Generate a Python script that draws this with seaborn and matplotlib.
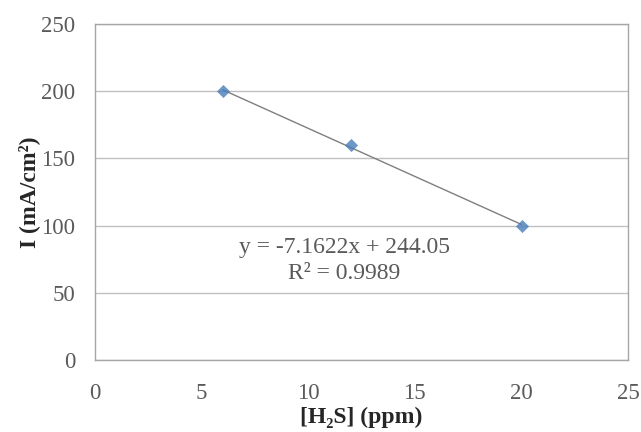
import numpy as np
import pandas as pd
import seaborn as sns
import matplotlib.pyplot as plt

# data
h2s_ppm = [6, 12, 20]
current = [200, 160, 100]
eq_text = "y = -7.1622x + 244.05"
r2_text = "R² = 0.9989"

sns.set_style("white")
plt.rcParams['font.family'] = ['Liberation Serif', 'DejaVu Serif']

df = pd.DataFrame({"h2s": h2s_ppm, "I": current})

fig = plt.figure(figsize=(6.41, 4.32), dpi=100)
ax = fig.add_axes([0.148, 0.167, 0.832, 0.777])

sns.regplot(data=df, x="h2s", y="I", ax=ax, ci=None, truncate=True,
            marker="D",
            scatter_kws={"color": "#4a7ebb", "s": 45, "zorder": 3, "linewidths": 0},
            line_kws={"color": "#7f7f7f", "lw": 1.0, "zorder": 2})

ax.set_xlim(0, 25)
ax.set_ylim(0, 250)
ax.set_xticks([0, 5, 10, 15, 20, 25])
ax.set_yticks([0, 50, 100, 150, 200, 250])
ax.yaxis.grid(True, color="#c0c0c0", lw=1)
ax.set_axisbelow(True)
for s in ax.spines.values():
    s.set_color("#a6a6a6")
    s.set_linewidth(1.0)
ax.tick_params(axis="both", length=0, labelsize=16.5, labelcolor="#5a5a5a")
ax.tick_params(axis="x", pad=17)
ax.tick_params(axis="y", pad=14)

ax.set_xlabel("[H₂S] (ppm)", fontsize=17, fontweight="bold", labelpad=2)
ax.set_ylabel("I (mA/cm²)", fontsize=17, fontweight="bold", labelpad=1)

ax.text(11.7, 84, eq_text, ha="center", va="center", fontsize=17, color="#5a5a5a")
ax.text(11.7, 64, r2_text, ha="center", va="center", fontsize=17, color="#5a5a5a")

fig.savefig("out.png", dpi=100)
